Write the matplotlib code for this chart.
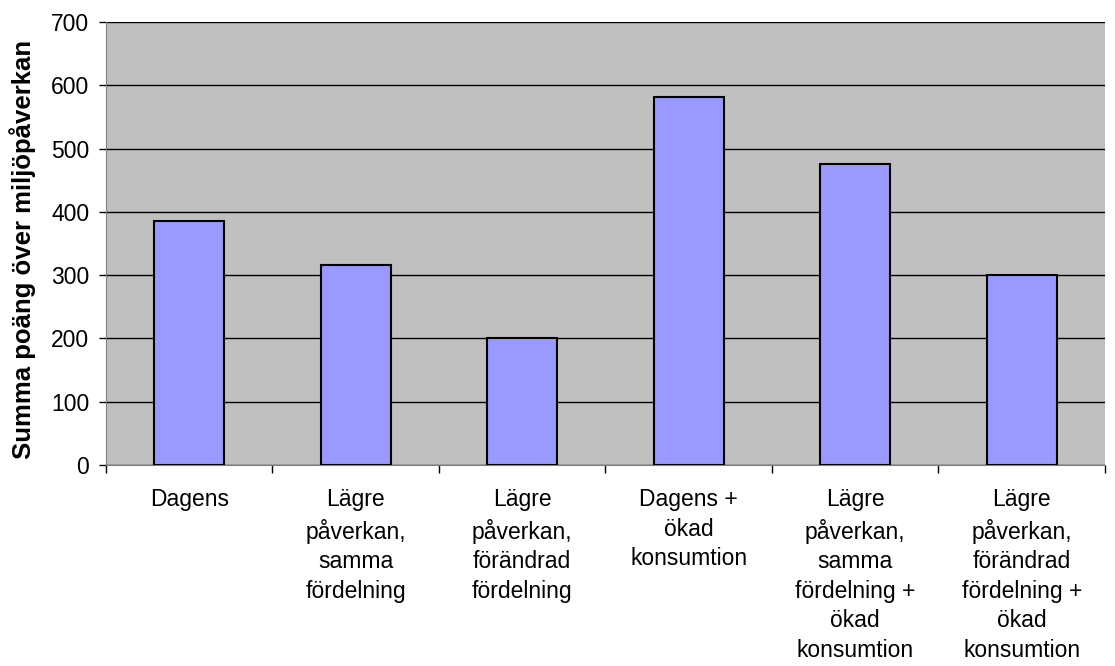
import matplotlib
matplotlib.use("Agg")
import matplotlib.pyplot as plt
import numpy as np

plt.rcParams['font.family'] = ['Liberation Sans', 'DejaVu Sans']

categories = [
    "Dagens",
    "Lägre\npåverkan,\nsamma\nfördelning",
    "Lägre\npåverkan,\nförändrad\nfördelning",
    "Dagens +\nökad\nkonsumtion",
    "Lägre\npåverkan,\nsamma\nfördelning +\nökad\nkonsumtion",
    "Lägre\npåverkan,\nförändrad\nfördelning +\nökad\nkonsumtion",
]
scores = [386, 316, 200, 581, 475, 300]
yticks = [0, 100, 200, 300, 400, 500, 600, 700]

fig = plt.figure(figsize=(11.15, 6.66), dpi=100)
ax = fig.add_axes([0.095, 0.302, 0.896, 0.665])
ax.set_facecolor("#C0C0C0")

x = np.arange(len(categories))
ax.bar(x, scores, width=0.42, color="#9999FF", edgecolor="black",
       linewidth=1.5, zorder=3)

ax.set_xlim(-0.5, len(categories) - 0.5)
ax.set_ylim(0, 700)
ax.set_yticks(yticks)
ax.yaxis.grid(True, color="black", linewidth=1.0, zorder=1)
ax.tick_params(axis="y", direction="out", length=5, width=1,
               labelsize=16.5, pad=7)

# labels under bars, tick marks between categories
ax.set_xticks(x)
ax.set_xticklabels(categories, fontsize=16.5, linespacing=1.36)
ax.tick_params(axis="x", which="major", length=0, pad=17)
ax.set_xticks(np.arange(-0.5, len(categories)), minor=True)
ax.tick_params(axis="x", which="minor", direction="out", length=6, width=1)

for side in ["top", "right"]:
    ax.spines[side].set_visible(False)
ax.spines["left"].set_color("#808080")
ax.spines["bottom"].set_color("#808080")

ax.set_ylabel("Summa poäng över miljöpåverkan", fontsize=18.5,
              fontweight="bold")
ax.yaxis.set_label_coords(-0.07, 0.486)

fig.savefig("out.png", dpi=100)
